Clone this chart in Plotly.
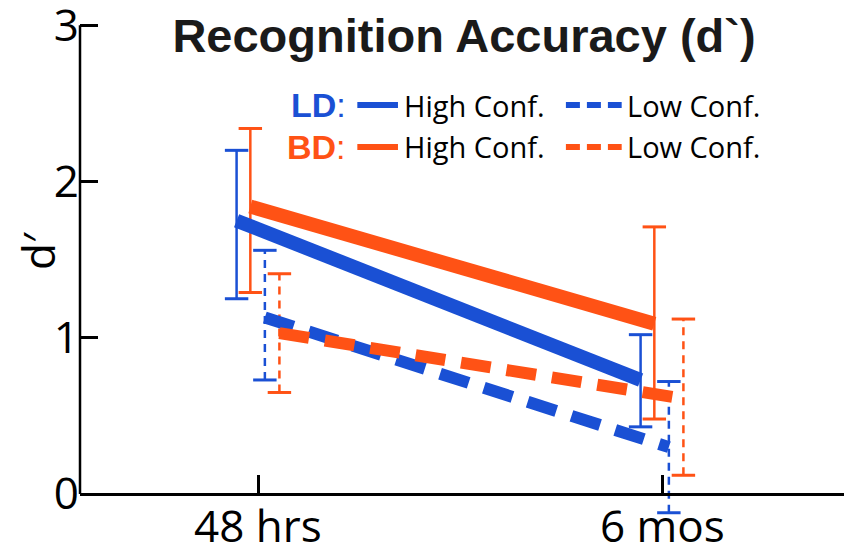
import plotly.graph_objects as go

# ---------------- data ----------------
timepoints = ["48 hrs", "6 mos"]
time_index = [0, 1]
y_tick_values = [0, 1, 2, 3]
y_tick_labels = ["0", "1", "2", "3"]

ld_high_mean = [1.75, 0.73]
ld_high_upper = [2.20, 1.02]
ld_high_lower = [1.25, 0.43]

bd_high_mean = [1.84, 1.09]
bd_high_upper = [2.34, 1.71]
bd_high_lower = [1.29, 0.48]

ld_low_mean = [1.13, 0.30]
ld_low_upper = [1.56, 0.72]
ld_low_lower = [0.73, -0.12]

bd_low_mean = [1.03, 0.61]
bd_low_upper = [1.41, 1.12]
bd_low_lower = [0.65, 0.12]

# ---------------- styles ----------------
BLUE = "#1A50D4"
ORANGE = "#FF5215"
TEXT_FONT = "Open Sans"
BOLD_FONT = "Liberation Sans"

series = [
    dict(name="LD High Conf.", mean=ld_high_mean, up=ld_high_upper, lo=ld_high_lower,
         color=BLUE, dodge=-0.053, width=14, dash="solid", edash="solid"),
    dict(name="BD High Conf.", mean=bd_high_mean, up=bd_high_upper, lo=bd_high_lower,
         color=ORANGE, dodge=-0.019, width=14, dash="solid", edash="solid"),
    dict(name="LD Low Conf.", mean=ld_low_mean, up=ld_low_upper, lo=ld_low_lower,
         color=BLUE, dodge=0.017, width=12, dash="30px,16px", edash="8px,6px"),
    dict(name="BD Low Conf.", mean=bd_low_mean, up=bd_low_upper, lo=bd_low_lower,
         color=ORANGE, dodge=0.053, width=12, dash="30px,16px", edash="8px,6px"),
]
CAP_HALF = 0.029

fig = go.Figure()

# error bars (drawn first)
for s in series:
    xs = [t + s["dodge"] for t in time_index]
    vx, vy, cx, cy = [], [], [], []
    for x, lo, hi in zip(xs, s["lo"], s["up"]):
        vx += [x, x, None]
        vy += [lo, hi, None]
        cx += [x - CAP_HALF, x + CAP_HALF, None, x - CAP_HALF, x + CAP_HALF, None]
        cy += [lo, lo, None, hi, hi, None]
    fig.add_trace(go.Scatter(x=vx, y=vy, mode="lines", showlegend=False, hoverinfo="skip",
                             line=dict(color=s["color"], width=2.5, dash=s["edash"])))
    fig.add_trace(go.Scatter(x=cx, y=cy, mode="lines", showlegend=False, hoverinfo="skip",
                             line=dict(color=s["color"], width=3)))

# mean lines (low first, high on top)
for s in [series[2], series[3], series[0], series[1]]:
    xs = [t + s["dodge"] for t in time_index]
    fig.add_trace(go.Scatter(x=xs, y=s["mean"], mode="lines", name=s["name"], showlegend=False,
                             line=dict(color=s["color"], width=s["width"], dash=s["dash"])))

# y-axis line from 0 to 3
fig.add_shape(type="line", xref="paper", yref="y", x0=0, x1=0, y0=0, y1=3,
              line=dict(color="black", width=2.5))

# x tick labels (as text below the axis line)
for t, lab in zip(time_index, timepoints):
    fig.add_annotation(xref="x", yref="y", x=t, y=0, xanchor="center", yanchor="middle",
                       yshift=-31, text=lab, showarrow=False,
                       font=dict(family=TEXT_FONT, size=44, color="black"))

# custom legend
legend_rows = [("LD", BLUE, 0.823), ("BD", ORANGE, 0.7396)]
for label, col, yp in legend_rows:
    fig.add_annotation(xref="paper", yref="paper", x=0.3508, y=yp, xanchor="right", yanchor="middle",
                       text=f"<b>{label}</b>:", showarrow=False,
                       font=dict(family=BOLD_FONT, size=34, color=col))
    fig.add_shape(type="line", xref="paper", yref="paper", x0=0.363, x1=0.4162, y0=yp, y1=yp,
                  line=dict(color=col, width=6))
    fig.add_shape(type="line", xref="paper", yref="paper", x0=0.636, x1=0.709, y0=yp, y1=yp,
                  line=dict(color=col, width=6, dash="14px,7px"))
    fig.add_annotation(xref="paper", yref="paper", x=0.4215, y=yp, xanchor="left", yanchor="middle",
                       text="High Conf.", showarrow=False,
                       font=dict(family=TEXT_FONT, size=29, color="black"))
    fig.add_annotation(xref="paper", yref="paper", x=0.7134, y=yp, xanchor="left", yanchor="middle",
                       text="Low Conf.", showarrow=False,
                       font=dict(family=TEXT_FONT, size=29, color="black"))

# y-axis title
fig.add_annotation(xref="paper", yref="paper", x=-0.055, y=0.5348, xanchor="center", yanchor="middle",
                   text="d′", textangle=-90, showarrow=False,
                   font=dict(family=TEXT_FONT, size=44, color="black"))

Y_MIN = -0.16
Y_MAX = 3.06
fig.update_layout(
    width=851, height=554,
    margin=dict(l=80, r=7, t=16, b=35),
    paper_bgcolor="white", plot_bgcolor="white",
    title=dict(text="<b>Recognition Accuracy (d`)</b>", xref="paper", x=0.5026, xanchor="center",
               yref="container", y=0.966, yanchor="top",
               font=dict(family=BOLD_FONT, size=47, color="#1a1a1a")),
    xaxis=dict(range=[-0.4406, 1.4505], tickvals=time_index, ticktext=timepoints,
               showticklabels=False,
               showgrid=False, zeroline=False, showline=True, linecolor="black", linewidth=2.5,
               ticks="inside", ticklen=18, tickwidth=2.5, tickcolor="black",
               anchor="free", position=(-Y_MIN) / (Y_MAX - Y_MIN), automargin=False),
    yaxis=dict(range=[Y_MIN, Y_MAX], tickvals=y_tick_values, ticktext=y_tick_labels,
               showgrid=False, zeroline=False, showline=False, ticklabeloverflow="allow",
               ticks="inside", ticklen=18, tickwidth=2.5, tickcolor="black",
               tickfont=dict(family=TEXT_FONT, size=44, color="black"), automargin=False),
)

fig.write_html("out.html", config={"displayModeBar": False},
               post_script="document.body.style.margin='0px';")
